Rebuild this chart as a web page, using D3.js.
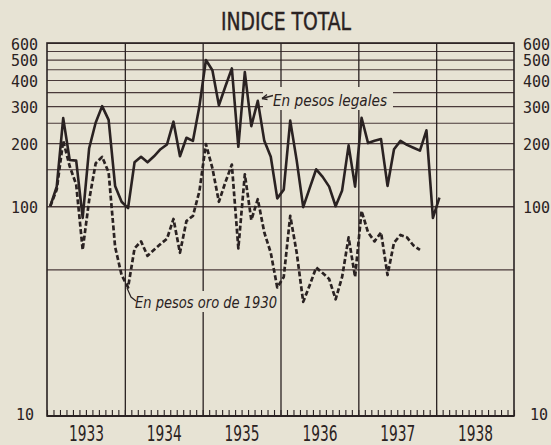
<!DOCTYPE html>
<html>
<head>
<meta charset="utf-8">
<script src="https://cdn.jsdelivr.net/npm/d3@7"></script>
<style>
  html, body { margin: 0; padding: 0; background: #e7e3d4; }
  svg { display: block; }
</style>
</head>
<body>
<script>
// ---- DATA ----
const years = [1933, 1934, 1935, 1936, 1937, 1938];
const yTickLabels = [10, 100, 200, 300, 400, 500, 600];
const gridValues = [50, 100, 150, 200, 250, 300, 350, 400, 450, 500, 550, 600];
// monthly index, Jan 1933 onward — "En pesos legales"
const pesosLegales = [
  100, 124, 263, 166, 165, 88, 189, 250, 300, 258, 125, 105,   // 1933
  98, 162, 172, 162, 173, 187, 197, 253, 173, 212, 205, 300,   // 1934
  498, 445, 303, 372, 454, 192, 436, 241, 318, 205, 172, 109,  // 1935
  120, 256, 165, 99, 122, 150, 138, 124, 100, 119, 195, 124,   // 1936
  264, 200, 205, 209, 125, 187, 205, 196, 190, 184, 230, 88,   // 1937
  110                                                          // 1938
];
// "En pesos oro de 1930"
const pesosOro = [
  100, 120, 205, 155, 127, 62, 107, 160, 172, 145, 64, 47,     // 1933
  41, 63, 68, 58, 62, 66, 70, 87, 60, 85, 90, 118,             // 1934
  198, 152, 105, 130, 158, 63, 142, 86, 108, 75, 60, 41,       // 1935
  46, 90, 60, 35, 42, 51, 48, 45, 36, 46, 71, 46,              // 1936
  95, 75, 68, 75, 47, 67, 73, 71, 65, 62                       // 1937
];
const title = "INDICE TOTAL";
const labelLegales = "En pesos legales";
const labelOro = "En pesos oro de 1930";

// ---- LAYOUT ----
const W = 551, H = 445;
const L = 47, R = 514, T = 43, B = 416;
const paper = "#e7e3d4", ink = "#2a2222", grid = "#4a3a3a";

const svg = d3.select("body").append("svg").attr("width", W).attr("height", H);
svg.append("rect").attr("width", W).attr("height", H).attr("fill", paper);

const x = d3.scaleLinear().domain([0, 72]).range([L, R]);   // months since Jan 1933
const y = d3.scaleLog().domain([10, 600]).range([B, T]);

// Title
svg.append("text").attr("x", 221).attr("y", 30)
  .attr("font-family", "'DejaVu Sans Condensed','DejaVu Sans',sans-serif")
  .attr("font-size", 24).attr("fill", ink).attr("stroke", ink).attr("stroke-width", 0.4)
  .attr("textLength", 130).attr("lengthAdjust", "spacingAndGlyphs")
  .text(title);

// Horizontal gridlines
const gGrid = svg.append("g").attr("transform", `translate(${L},0)`)
  .call(d3.axisLeft(y).tickValues(gridValues).tickSize(-(R - L)).tickFormat(""));
gGrid.select(".domain").remove();
gGrid.selectAll("line").attr("stroke", grid).attr("stroke-width", d => d === 100 ? 1.6 : 1.1);

// Year dividers (vertical)
const gYears = svg.append("g").attr("transform", `translate(0,${T})`)
  .call(d3.axisBottom(x).tickValues(d3.range(12, 72, 12)).tickSize(B - T).tickFormat(""));
gYears.select(".domain").remove();
gYears.selectAll("line").attr("stroke", ink).attr("stroke-width", 1.3);

// Monthly minor ticks on bottom
const gMin = svg.append("g").attr("transform", `translate(0,${B})`)
  .call(d3.axisBottom(x).tickValues(d3.range(0, 73)).tickSize(-6).tickFormat(""));
gMin.select(".domain").remove();
gMin.selectAll("line").attr("stroke", ink).attr("stroke-width", 1.1);

// Year labels
const gYL = svg.append("g").attr("transform", `translate(0,${B})`)
  .call(d3.axisBottom(x).tickValues(years.map((d, i) => i * 12 + 6)).tickSize(0).tickPadding(0)
    .tickFormat((d, i) => years[i]));
gYL.select(".domain").remove();
gYL.selectAll("text")
  .attr("y", 25).attr("dy", 0)
  .attr("font-family", "'DejaVu Sans Condensed','DejaVu Sans',sans-serif")
  .attr("font-size", 21).attr("fill", ink)
  .attr("textLength", 35).attr("lengthAdjust", "spacingAndGlyphs");

// Left & right value labels
function styleVal(g) {
  g.select(".domain").remove();
  g.selectAll("text")
    .attr("font-family", "'DejaVu Sans Mono',monospace")
    .attr("font-size", 15).attr("fill", ink).attr("dy", "0.42em");
}
const gLeft = svg.append("g").attr("transform", `translate(${L},0)`)
  .call(d3.axisLeft(y).tickValues(yTickLabels).tickSize(0).tickPadding(9).tickFormat(d3.format("d")));
styleVal(gLeft);
gLeft.selectAll(".tick").filter(d => d === 10).select("text").attr("x", -13).attr("dy", "0.2em");
const gRight = svg.append("g").attr("transform", `translate(${R},0)`)
  .call(d3.axisRight(y).tickValues(yTickLabels).tickSize(0).tickPadding(9).tickFormat(d3.format("d")));
styleVal(gRight);
gRight.selectAll(".tick").filter(d => d === 10).select("text").attr("x", 16).attr("dy", "0.2em");

// Label backgrounds + labels
svg.append("rect").attr("x", 263).attr("y", 87).attr("width", 130).attr("height", 23).attr("fill", paper);
svg.append("rect").attr("x", 133).attr("y", 291).attr("width", 147).attr("height", 21).attr("fill", paper);

const labFont = "'DejaVu Sans Condensed','DejaVu Sans',sans-serif";
svg.append("text").attr("x", 273).attr("y", 106)
  .attr("font-family", labFont).attr("font-style", "italic").attr("font-size", 16).attr("fill", ink)
  .attr("textLength", 114).attr("lengthAdjust", "spacingAndGlyphs").text(labelLegales);
svg.append("text").attr("x", 135).attr("y", 308)
  .attr("font-family", labFont).attr("font-style", "italic").attr("font-size", 16).attr("fill", ink)
  .attr("textLength", 142).attr("lengthAdjust", "spacingAndGlyphs").text(labelOro);

// leaders
svg.append("path").attr("d", "M262,98.5 L273,95.5").attr("stroke", ink).attr("stroke-width", 1.3).attr("fill", "none");
svg.append("path").attr("d", "M262,98.5 L267,94.5 M262,98.5 L267.5,99.5").attr("stroke", ink).attr("stroke-width", 1.3).attr("fill", "none");
svg.append("path").attr("d", "M127,288 L131,297 L136,301").attr("stroke", ink).attr("stroke-width", 1.2).attr("fill", "none");

// Plot frame
svg.append("rect").attr("x", L).attr("y", T).attr("width", R - L).attr("height", B - T)
  .attr("fill", "none").attr("stroke", ink).attr("stroke-width", 1.6);
svg.append("line").attr("x1", L).attr("x2", R).attr("y1", B).attr("y2", B)
  .attr("stroke", ink).attr("stroke-width", 2.2);

// Data lines
const line = d3.line().x((d, i) => x(i + 0.5)).y(d => y(d));
svg.append("path").datum(pesosOro).attr("d", line)
  .attr("fill", "none").attr("stroke", ink).attr("stroke-width", 2.7)
  .attr("stroke-dasharray", "5,2.5").attr("stroke-linejoin", "round");
svg.append("path").datum(pesosLegales).attr("d", line)
  .attr("fill", "none").attr("stroke", ink).attr("stroke-width", 2.6)
  .attr("stroke-linejoin", "round");
</script>
</body>
</html>
